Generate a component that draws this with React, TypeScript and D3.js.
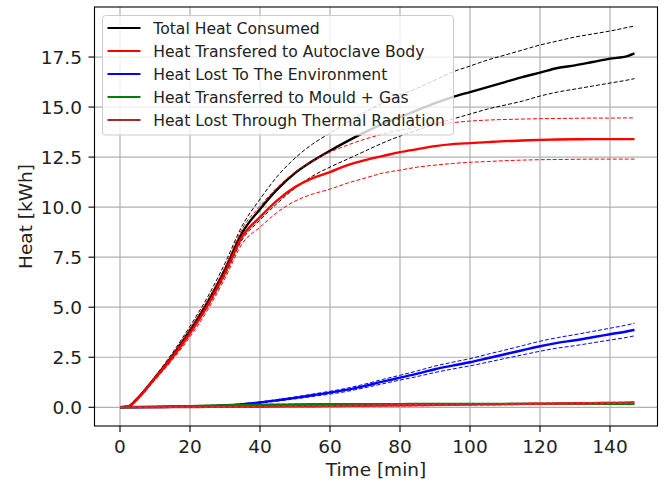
import { useMemo } from 'react'
import * as d3 from 'd3'

// time axis (min)
const TIME = [0, 2.5, 5, 10, 15, 20, 25, 30, 35, 40, 45, 50, 55, 60, 65, 70, 75, 80, 85, 90, 95, 100, 105, 110, 115, 120, 125, 130, 135, 140, 145, 147]

// heat values (kWh), mean and dashed band
const TOTAL = [0, 0.06, 0.45, 1.48, 2.58, 3.85, 5.25, 6.9, 8.75, 9.9, 10.9, 11.7, 12.3, 12.82, 13.3, 13.75, 14.15, 14.5, 14.85, 15.2, 15.5, 15.75, 16.0, 16.25, 16.5, 16.72, 16.95, 17.08, 17.25, 17.42, 17.55, 17.68]
const TOTAL_UP = [0, 0.07, 0.48, 1.55, 2.72, 4.05, 5.5, 7.2, 9.1, 10.4, 11.55, 12.45, 13.15, 13.7, 14.25, 14.75, 15.2, 15.6, 15.95, 16.35, 16.75, 17.05, 17.35, 17.6, 17.85, 18.1, 18.3, 18.5, 18.65, 18.8, 18.98, 19.05]
const TOTAL_LO = [0, 0.05, 0.42, 1.4, 2.44, 3.68, 5.0, 6.6, 8.4, 9.35, 10.2, 10.95, 11.55, 12.0, 12.4, 12.8, 13.2, 13.55, 13.85, 14.15, 14.4, 14.65, 14.9, 15.1, 15.3, 15.55, 15.75, 15.9, 16.05, 16.2, 16.35, 16.42]

const BODY = [0, 0.05, 0.42, 1.45, 2.5, 3.7, 5.08, 6.72, 8.55, 9.5, 10.35, 11.0, 11.45, 11.75, 12.1, 12.35, 12.55, 12.75, 12.9, 13.05, 13.15, 13.2, 13.25, 13.3, 13.33, 13.36, 13.38, 13.39, 13.4, 13.4, 13.4, 13.4]
const BODY_UP = [0, 0.06, 0.45, 1.52, 2.64, 3.9, 5.34, 7.0, 8.95, 10.05, 11.0, 11.75, 12.3, 12.75, 13.1, 13.4, 13.65, 13.85, 14.0, 14.12, 14.22, 14.3, 14.35, 14.38, 14.4, 14.42, 14.43, 14.44, 14.45, 14.45, 14.46, 14.46]
const BODY_LO = [0, 0.04, 0.38, 1.36, 2.38, 3.52, 4.85, 6.45, 8.2, 9.0, 9.75, 10.3, 10.65, 10.9, 11.2, 11.45, 11.7, 11.85, 12.0, 12.1, 12.18, 12.24, 12.28, 12.32, 12.35, 12.37, 12.38, 12.39, 12.4, 12.4, 12.4, 12.4]

const ENV = [0, 0, 0, 0.01, 0.02, 0.04, 0.06, 0.1, 0.16, 0.24, 0.35, 0.47, 0.6, 0.73, 0.88, 1.07, 1.28, 1.48, 1.68, 1.9, 2.08, 2.25, 2.45, 2.65, 2.85, 3.05, 3.22, 3.35, 3.5, 3.65, 3.8, 3.87]
const ENV_UP = [0, 0, 0, 0.01, 0.02, 0.04, 0.07, 0.11, 0.18, 0.27, 0.39, 0.52, 0.66, 0.8, 0.96, 1.16, 1.39, 1.6, 1.82, 2.06, 2.25, 2.43, 2.65, 2.86, 3.08, 3.3, 3.48, 3.63, 3.79, 3.95, 4.12, 4.2]
const ENV_LO = [0, 0, 0, 0.01, 0.02, 0.04, 0.05, 0.09, 0.14, 0.21, 0.31, 0.42, 0.54, 0.66, 0.8, 0.98, 1.17, 1.36, 1.54, 1.74, 1.91, 2.07, 2.25, 2.44, 2.62, 2.8, 2.96, 3.08, 3.22, 3.36, 3.5, 3.57]

const MOULD = [0, 0.01, 0.02, 0.03, 0.05, 0.06, 0.08, 0.09, 0.11, 0.12, 0.13, 0.14, 0.15, 0.15, 0.16, 0.16, 0.16, 0.16, 0.17, 0.17, 0.17, 0.17, 0.17, 0.17, 0.17, 0.17, 0.17, 0.18, 0.18, 0.18, 0.18, 0.18]
const MOULD_UP = [0, 0.02, 0.03, 0.05, 0.07, 0.08, 0.1, 0.11, 0.13, 0.14, 0.15, 0.16, 0.17, 0.17, 0.18, 0.18, 0.18, 0.18, 0.19, 0.19, 0.19, 0.19, 0.19, 0.19, 0.19, 0.19, 0.19, 0.2, 0.2, 0.2, 0.2, 0.2]
const MOULD_LO = [0, 0, 0.01, 0.02, 0.03, 0.04, 0.06, 0.07, 0.09, 0.1, 0.11, 0.12, 0.13, 0.13, 0.14, 0.14, 0.14, 0.14, 0.15, 0.15, 0.15, 0.15, 0.15, 0.15, 0.15, 0.15, 0.15, 0.16, 0.16, 0.16, 0.16, 0.16]

const RAD = [0, 0, 0, 0, 0.01, 0.01, 0.02, 0.02, 0.03, 0.03, 0.04, 0.05, 0.05, 0.06, 0.07, 0.08, 0.09, 0.1, 0.11, 0.12, 0.13, 0.14, 0.15, 0.16, 0.17, 0.18, 0.19, 0.2, 0.21, 0.22, 0.23, 0.24]
const RAD_UP = [0, 0, 0, 0.01, 0.02, 0.02, 0.03, 0.04, 0.05, 0.05, 0.06, 0.07, 0.08, 0.09, 0.1, 0.11, 0.12, 0.13, 0.14, 0.15, 0.16, 0.17, 0.18, 0.19, 0.2, 0.21, 0.22, 0.23, 0.24, 0.25, 0.26, 0.27]
const RAD_LO = [0, 0, 0, 0, 0, 0, 0, 0, 0, 0.01, 0.01, 0.02, 0.02, 0.03, 0.03, 0.04, 0.05, 0.06, 0.07, 0.08, 0.09, 0.1, 0.11, 0.12, 0.13, 0.14, 0.15, 0.16, 0.17, 0.18, 0.19, 0.2]

const LABELS = [
  'Total Heat Consumed',
  'Heat Transfered to Autoclave Body',
  'Heat Lost To The Environment',
  'Heat Transferred to Mould + Gas',
  'Heat Lost Through Thermal Radiation',
]
const COLORS = ['#000000', '#ff0000', '#0000ff', '#008000', '#a52a2a']
const BAND_COLORS = ['#000000', '#ff0000', '#0000ff', '#008000', '#ff2020']

const X_TICKS = [0, 20, 40, 60, 80, 100, 120, 140]
const Y_TICKS = [0, 2.5, 5, 7.5, 10, 12.5, 15, 17.5]

const W = 664
const H = 482
const LEFT = 94.5
const RIGHT = 657.5
const TOP = 7
const BOTTOM = 426
const FONT = 'DejaVu Sans, sans-serif'

export default function App() {
  const x = d3.scaleLinear().domain([(LEFT - 120) / 3.5, (RIGHT - 120) / 3.5]).range([LEFT, RIGHT])
  const y = d3.scaleLinear().domain([-0.935, 20.0]).range([BOTTOM, TOP])

  const series = useMemo(
    () => [
      [TOTAL, TOTAL_UP, TOTAL_LO],
      [BODY, BODY_UP, BODY_LO],
      [ENV, ENV_UP, ENV_LO],
      [MOULD, MOULD_UP, MOULD_LO],
      [RAD, RAD_UP, RAD_LO],
    ],
    []
  )

  const line = d3
    .line<number>()
    .x((_, i) => x(TIME[i]))
    .y((d) => y(d))
    .curve(d3.curveMonotoneX)

  return (
    <svg width={W} height={H} style={{ position: 'absolute', left: 0, top: 0, background: '#fff' }}>
      <defs>
        <clipPath id="plot">
          <rect x={LEFT} y={TOP} width={RIGHT - LEFT} height={BOTTOM - TOP} />
        </clipPath>
      </defs>
      <rect x={0} y={0} width={W} height={H} fill="#fff" />

      {/* grid */}
      <g stroke="#b0b0b0" strokeWidth={1.2}>
        {X_TICKS.map((t) => (
          <line key={'gx' + t} x1={x(t)} x2={x(t)} y1={TOP} y2={BOTTOM} />
        ))}
        {Y_TICKS.map((t) => (
          <line key={'gy' + t} x1={LEFT} x2={RIGHT} y1={y(t)} y2={y(t)} />
        ))}
      </g>

      {/* curves */}
      <g clipPath="url(#plot)" fill="none">
        {series.map(([mean, up, lo], i) => (
          <g key={i}>
            <path d={line(mean) || ''} stroke={COLORS[i]} strokeWidth={2.4} />
            <path d={line(up) || ''} stroke={BAND_COLORS[i]} strokeWidth={1} strokeDasharray="4,2" />
            <path d={line(lo) || ''} stroke={BAND_COLORS[i]} strokeWidth={1} strokeDasharray="4,2" />
          </g>
        ))}
      </g>

      {/* axes */}
      <rect x={LEFT} y={TOP} width={RIGHT - LEFT} height={BOTTOM - TOP} fill="none" stroke="#000" strokeWidth={1.1} />
      <g fontFamily={FONT} fontSize={18.5} fill="#222">
        {X_TICKS.map((t) => (
          <g key={'tx' + t}>
            <line x1={x(t)} x2={x(t)} y1={BOTTOM} y2={BOTTOM + 6} stroke="#000" strokeWidth={1.1} />
            <text x={x(t)} y={452.5} textAnchor="middle">
              {t}
            </text>
          </g>
        ))}
        {Y_TICKS.map((t) => (
          <g key={'ty' + t}>
            <line x1={LEFT - 6} x2={LEFT} y1={y(t)} y2={y(t)} stroke="#000" strokeWidth={1.1} />
            <text x={82} y={y(t)} dy="0.36em" textAnchor="end">
              {d3.format('.1f')(t)}
            </text>
          </g>
        ))}
        <text x={(LEFT + RIGHT) / 2} y={476} textAnchor="middle">
          Time [min]
        </text>
        <text transform={`translate(32, ${(TOP + BOTTOM) / 2}) rotate(-90)`} textAnchor="middle">
          Heat [kWh]
        </text>
      </g>

      {/* legend */}
      <g fontFamily={FONT} fontSize={15.6} fill="#222">
        <rect x={102.5} y={15.5} width={351} height={119.5} rx={3} fill="#fff" fillOpacity={0.8} stroke="#cccccc" strokeWidth={1} />
        {LABELS.map((label, i) => (
          <g key={label} transform={`translate(0, ${28 + i * 23})`}>
            <line x1={107.5} x2={140.5} y1={0} y2={0} stroke={COLORS[i]} strokeWidth={2.2} />
            <text x={153.3} y={0} dy="0.36em">
              {label}
            </text>
          </g>
        ))}
      </g>
    </svg>
  )
}
